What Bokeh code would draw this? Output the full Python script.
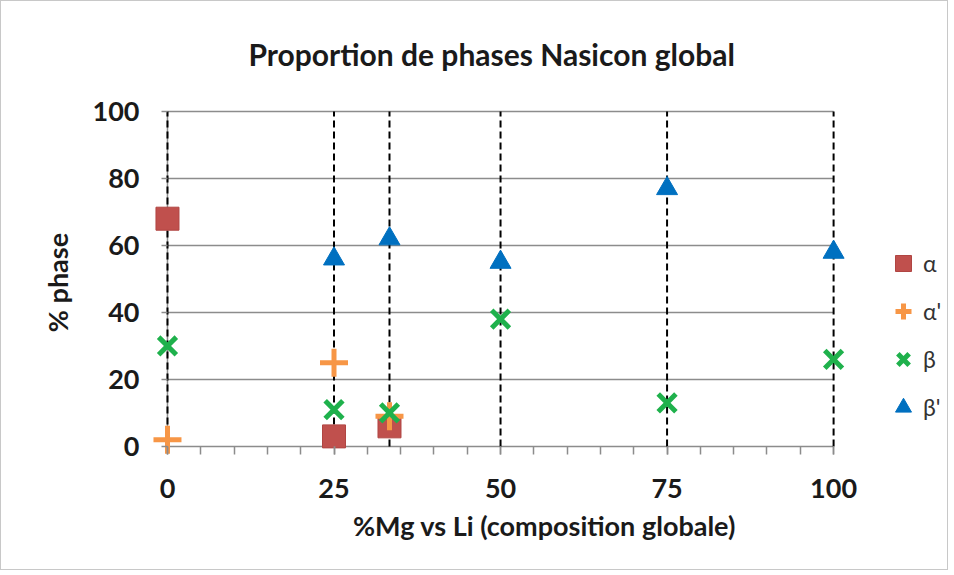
from bokeh.plotting import figure
from bokeh.models import Range1d, FixedTicker, Legend, LegendItem
from bokeh.embed import file_html
from bokeh.resources import INLINE

chart_title = "Proportion de phases Nasicon global"
x_label = "%Mg vs Li (composition globale)"
y_label = "% phase"

compositions = [0, 25, 33.33, 50, 75, 100]

alpha_x = [0, 25, 33.33]
alpha_y = [68, 3, 6]

alphap_x = [0, 25, 33.33]
alphap_y = [2, 25, 9]

beta_x = [0, 25, 33.33, 50, 75, 100]
beta_y = [30, 11, 10, 38, 13, 26]

betap_x = [25, 33.33, 50, 75, 100]
betap_y = [56, 62, 55, 77, 58]

x_ticks = [0, 25, 50, 75, 100]
x_minor = list(range(0, 101, 5))
y_ticks = [0, 20, 40, 60, 80, 100]
grid_levels = [20, 40, 60, 80, 100]

FONT = "Lato"
TXT = "#1a1a1a"
GRID = "#8C8C8C"

p = figure(width=948, height=570, output_backend="svg", toolbar_location=None,
           x_range=Range1d(-3.9, 117.1), y_range=Range1d(-4.5, 102.4),
           min_border_left=140, min_border_right=2, min_border_top=102, min_border_bottom=110)
p.styles = {"border": "1px solid #C8C8C8"}
p.outline_line_color = None

p.title.text = chart_title
p.title.align = "left"
p.title.offset = 107
p.title.text_font = FONT
p.title.text_font_size = "30px"
p.title.text_font_style = "bold"
p.title.text_color = TXT
p.title.standoff = 64

# grid and axis lines drawn between 0 and 100 only
p.xgrid.grid_line_color = None
p.ygrid.grid_line_color = None
p.segment(x0=[x_ticks[0]] * len(grid_levels), y0=grid_levels,
          x1=[x_ticks[-1]] * len(grid_levels), y1=grid_levels,
          line_color=GRID, line_width=1.5)
p.segment(x0=[x_ticks[0], x_ticks[0]], y0=[y_ticks[0], y_ticks[0]],
          x1=[x_ticks[-1], x_ticks[0]], y1=[y_ticks[0], y_ticks[-1]],
          line_color=GRID, line_width=1.5)

# axes (ticks shifted onto the data axes with in/out lengths)
p.xaxis.ticker = FixedTicker(ticks=x_ticks, minor_ticks=x_minor)
p.yaxis.ticker = FixedTicker(ticks=y_ticks)
for ax in (p.xaxis, p.yaxis):
    ax.axis_line_color = None
    ax.major_tick_line_color = GRID
    ax.minor_tick_line_color = GRID
    ax.major_tick_line_width = 1.5
    ax.minor_tick_line_width = 1.5
    ax.major_label_text_font = FONT
    ax.major_label_text_font_size = "27px"
    ax.major_label_text_font_style = "bold"
    ax.major_label_text_color = TXT
    ax.axis_label_text_font = FONT
    ax.axis_label_text_font_size = "27px"
    ax.axis_label_text_font_style = "bold"
    ax.axis_label_text_color = TXT
p.xaxis.major_tick_in = 15
p.xaxis.major_tick_out = -7
p.xaxis.minor_tick_in = 15
p.xaxis.minor_tick_out = -7
p.xaxis.major_label_standoff = 24
p.xaxis.axis_label = x_label
p.xaxis.axis_label_standoff = 8
p.yaxis.major_tick_in = 26
p.yaxis.major_tick_out = -20
p.yaxis.minor_tick_line_color = None
p.yaxis.major_label_standoff = 2
p.yaxis.axis_label = y_label
p.yaxis.axis_label_standoff = 16

# dashed composition lines
p.segment(x0=compositions, y0=[0] * len(compositions), x1=compositions, y1=[100] * len(compositions),
          line_color="black", line_width=2, line_dash="7 4")

r_alpha = p.scatter(alpha_x, alpha_y, marker="square", size=23,
                    fill_color="#C0504D", line_color="#B04542", line_width=1)
r_alphap = p.scatter(alphap_x, alphap_y, marker="cross", size=28,
                     line_color="#F79646", line_width=5)
r_beta = p.scatter(beta_x, beta_y, marker="x", size=25,
                   line_color="#1FB14C", line_width=5)
r_betap = p.scatter(betap_x, betap_y, marker="triangle", size=21,
                    fill_color="#0070C0", line_color="#0070C0")

legend = Legend(items=[LegendItem(label="α", renderers=[r_alpha]),
                       LegendItem(label="α'", renderers=[r_alphap]),
                       LegendItem(label="β", renderers=[r_beta]),
                       LegendItem(label="β'", renderers=[r_betap])],
                location=(742, 33))
legend.background_fill_alpha = 0
legend.border_line_color = None
legend.label_text_font = FONT
legend.label_text_font_size = "23px"
legend.label_text_color = "#333333"
legend.glyph_width = 40
legend.glyph_height = 42
legend.spacing = 6
legend.label_standoff = 0
legend.padding = 0
p.add_layout(legend)

open("out.html", "w").write(file_html(p, INLINE))
